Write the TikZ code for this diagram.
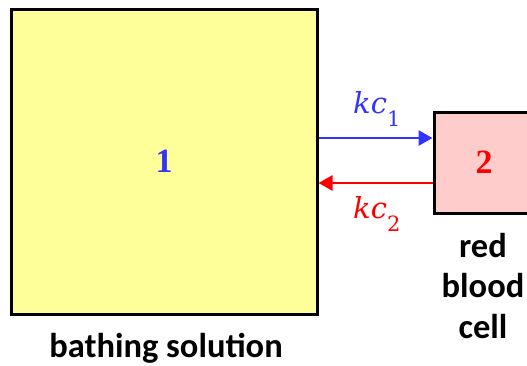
\documentclass[tikz,border=0pt]{standalone}
\usepackage{fontspec}
\newfontfamily\lblfont{Carlito}
\newfontfamily\digfont{Liberation Serif}
\newfontfamily\ratefont{DejaVu Serif}
\usetikzlibrary{arrows.meta}
\definecolor{boxyellow}{RGB}{255,255,153}
\definecolor{boxpink}{RGB}{255,204,204}
\definecolor{myblue}{RGB}{51,51,255}
\definecolor{myred}{RGB}{255,0,0}
\newcommand{\ratelabel}[1]{{\ratefont\itshape\fontsize{29}{33}\selectfont kc}\raisebox{-13pt}{\ratefont\fontsize{21}{21}\selectfont #1}}
\begin{document}
\begin{tikzpicture}[x=1pt,y=-1pt,
  box/.style={draw=black,line width=3pt,inner sep=0pt},
  digit/.style={font=\digfont\bfseries\fontsize{34}{40}\selectfont},
  conn/.style={line width=2.7pt,-{Triangle[length=14pt,width=15pt]}},
  caption/.style={font=\lblfont\bfseries\fontsize{34.5}{40.5}\selectfont,text=black},
  rate/.style={inner sep=0pt,anchor=base west}]
\useasboundingbox (0,0) rectangle (527,365);
\clip (0,0) rectangle (527,365);
\node[box,fill=boxyellow,minimum width=306pt,minimum height=305pt,digit,text=myblue] (bath) at (164,161.5) {1};
\node[box,fill=boxpink,minimum width=100pt,minimum height=101pt,digit,text=myred] (rbc) at (484,162.5) {2};
\draw[conn,myblue] ([yshift=24.5pt]bath.east |- rbc.west) -- ([yshift=24.5pt]rbc.west);
\draw[conn,myred] ([yshift=-20.5pt]rbc.west) -- ([yshift=-20.5pt]bath.east |- rbc.west);
\node[rate,text=myblue] (k1) at (353,113) {\ratelabel{1}};
\node[rate,text=myred] (k2) at (353,218) {\ratelabel{2}};
\node[caption,anchor=base] (bs) at (166,357) {bathing solution};
\node[caption,anchor=base,align=center] (rbcl) at (483,338) {red\\blood\\cell};
\end{tikzpicture}
\end{document}
